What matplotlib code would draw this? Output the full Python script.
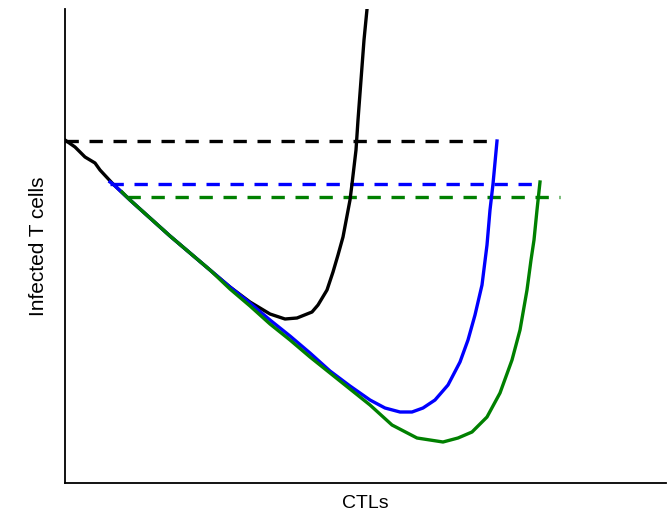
import matplotlib
matplotlib.use("Agg")
import matplotlib.pyplot as plt

# Trajectories in the (CTL, infected T cell) phase plane.
# x: CTL level, y: infected T cell level (arbitrary units)
black_x = [0, 10, 20, 30, 35, 48, 65, 85, 105, 125, 145, 165, 185, 205, 220, 232, 247, 253,
           262, 268, 273, 278, 285, 287, 291, 293, 296, 299, 303]
black_y = [343, 336, 326, 320, 313, 299, 283, 265, 247, 230, 213, 196, 181, 169, 164, 165,
           171, 178, 193, 211, 228, 246, 283, 299, 333, 363, 403, 443, 484]

blue_x = [45, 48, 65, 85, 105, 125, 145, 165, 185, 205, 225, 245, 265, 285, 305, 320, 335,
          347, 358, 370, 383, 395, 403, 410, 417, 422, 425, 428, 432]
blue_y = [301, 299, 283, 265, 247, 230, 213, 196, 180, 163, 147, 130, 112, 97, 83, 75, 71,
          71, 75, 83, 98, 121, 143, 168, 198, 238, 273, 299, 342]

green_x = [57, 65, 85, 105, 125, 145, 165, 185, 205, 225, 245, 265, 285, 305, 327, 352, 378,
           393, 407, 422, 435, 447, 455, 462, 466, 469, 472, 475]
green_y = [291, 283, 265, 247, 230, 213, 194, 177, 159, 143, 126, 110, 94, 78, 58, 45, 41,
           45, 51, 66, 90, 123, 153, 193, 223, 243, 273, 301]

# Starting levels, drawn as dashed guides
black_level, black_span = 342, (0, 432)
blue_level, blue_span = 299, (45, 476)
green_level, green_span = 286, (62, 495)

fig = plt.figure(figsize=(6.67, 5.19), dpi=100)
ax = fig.add_axes([65 / 667, 36 / 519, 601 / 667, 474 / 519])

lw = 2.4
dash = (4, 3.2)
ax.plot(black_span, [black_level] * 2, color="black", lw=lw, dashes=dash)
ax.plot(blue_span, [blue_level] * 2, color="blue", lw=lw, dashes=dash)
ax.plot(green_span, [green_level] * 2, color="green", lw=lw, dashes=dash)

ax.plot(black_x, black_y, color="black", lw=lw)
ax.plot(blue_x, blue_y, color="blue", lw=lw)
ax.plot(green_x, green_y, color="green", lw=lw)

ax.set_xlim(0, 601)
ax.set_ylim(0, 474)
ax.set_xticks([])
ax.set_yticks([])
for side in ("top", "right"):
    ax.spines[side].set_visible(False)
for side in ("left", "bottom"):
    ax.spines[side].set_linewidth(1.3)

ax.set_xlabel("CTLs", family="Liberation Sans", fontsize=14, labelpad=9)
ax.set_ylabel("Infected T cells", family="Liberation Sans", fontsize=15, labelpad=12)

fig.savefig("out.png", dpi=100)
